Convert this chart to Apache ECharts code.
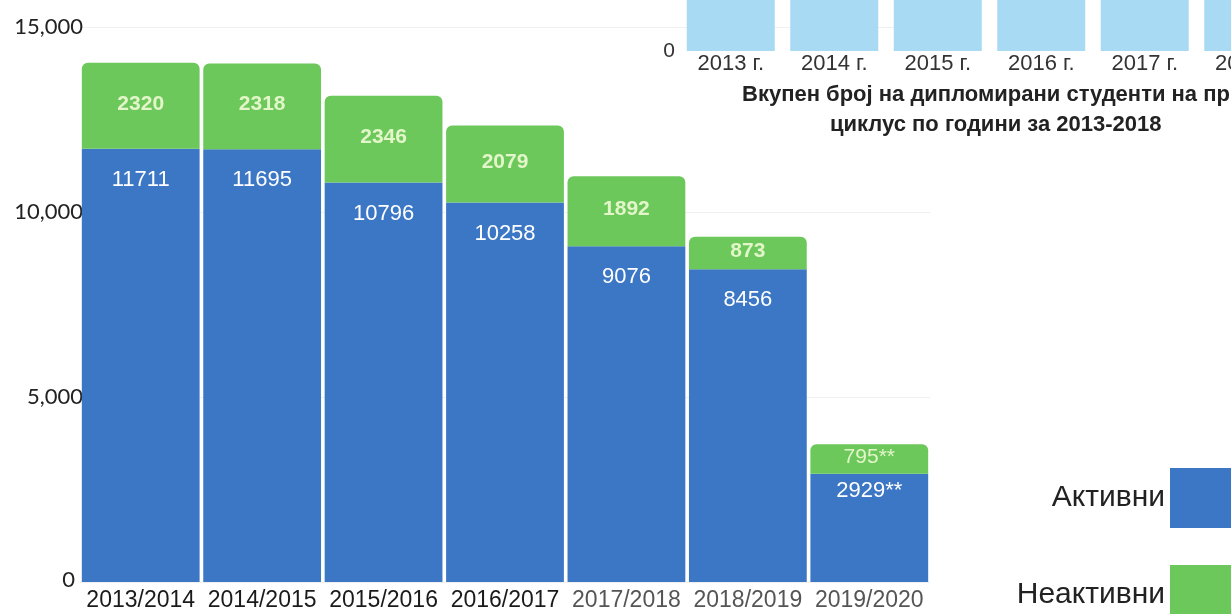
<!DOCTYPE html>
<html><head><meta charset="utf-8">
<script src="https://cdn.jsdelivr.net/npm/echarts@6/dist/echarts.min.js"></script>
<style>html,body{margin:0;padding:0;background:#fff}#c{width:1231px;height:614px}</style>
</head><body><div id="c"></div>
<script>
// main chart data
const categories = ['2013/2014','2014/2015','2015/2016','2016/2017','2017/2018','2018/2019','2019/2020'];
const active = [11711, 11695, 10796, 10258, 9076, 8456, 2929];
const inactive = [2320, 2318, 2346, 2079, 1892, 873, 795];
const footnoteIndex = 6; // values marked with **
const yTicks = [0, 5000, 10000, 15000];
// background (cropped) chart data
const bgCategories = ['2013 г.','2014 г.','2015 г.','2016 г.','2017 г.','2018 г.'];
const bgValues = [6500, 6800, 7000, 6700, 6400, 6000];
const bgTitle1 = 'Вкупен број на дипломирани студенти на прв';
const bgTitle2 = 'циклус по години за 2013-2018';

const BLUE = '#3c77c5', GREEN = '#6cc85a', LIGHTBLUE = '#a9daf4';
const NARROW = 'Liberation Sans Narrow, Liberation Sans, Arial';

const chart = echarts.init(document.getElementById('c'));
chart.setOption({
  animation: false,
  backgroundColor: '#fff',
  grid: [
    {left: 80, right: 301, top: 27, bottom: 32, outerBoundsMode: 'none', containLabel: false},
    {left: 679, right: -69, top: -500, bottom: 563, outerBoundsMode: 'none', containLabel: false}
  ],
  xAxis: [
    {type: 'category', data: categories, gridIndex: 0,
     axisLine: {show: false}, axisTick: {show: false},
     axisLabel: {interval: 0, margin: 7, fontFamily: NARROW, fontSize: 23,
       formatter: (v, i) => (i < 4 ? '{d|' + v + '}' : '{l|' + v + '}'),
       rich: {d: {color: '#1a1a1a', fontSize: 23, fontFamily: NARROW},
              l: {color: '#555', fontSize: 23, fontFamily: NARROW}}}},
    {type: 'category', data: bgCategories, gridIndex: 1,
     axisLine: {show: false}, axisTick: {show: false},
     axisLabel: {interval: 0, margin: 2, color: '#333', fontSize: 22, fontFamily: 'Liberation Sans, Arial'}}
  ],
  yAxis: [
    {type: 'value', gridIndex: 0, min: yTicks[0], max: yTicks[yTicks.length - 1], interval: 5000,
     axisLine: {show: false}, axisTick: {show: false},
     splitLine: {lineStyle: {color: '#f0f0f0'}},
     axisLabel: {margin: -3, color: '#222', fontSize: 22, fontFamily: 'Lato, Open Sans, sans-serif',
       formatter: v => (v === 0 ? '{z|0}' : v.toLocaleString('en-US')),
       rich: {z: {color: '#222', fontSize: 22, fontFamily: 'Lato, Open Sans, sans-serif', padding: [0, 8, 4, 0]}}}},
    {type: 'value', gridIndex: 1, min: 0, max: 10000, interval: 10000,
     axisLine: {show: false}, axisTick: {show: false}, splitLine: {show: false},
     axisLabel: {margin: 4, color: '#333', fontSize: 21, fontFamily: 'Liberation Sans, Arial'}}
  ],
  legend: [
    {data: ['Активни'], orient: 'vertical', right: -6, top: 463, itemWidth: 62, itemHeight: 60, itemGap: 10,
     align: 'right', icon: 'rect', textStyle: {fontSize: 30, color: '#222', fontFamily: 'Liberation Sans, Arial'}},
    {data: ['Неактивни'], orient: 'vertical', right: -6, top: 560, itemWidth: 62, itemHeight: 60, itemGap: 10,
     align: 'right', icon: 'rect', textStyle: {fontSize: 30, color: '#222', fontFamily: 'Liberation Sans, Arial'}}
  ],
  graphic: [
    {type: 'text', left: 742, top: 84, style: {text: bgTitle1, fill: '#222', font: 'bold 22px Liberation Sans, Arial'}},
    {type: 'text', left: 830, top: 114, style: {text: bgTitle2, fill: '#222', font: 'bold 22px Liberation Sans, Arial'}}
  ],
  series: [
    {name: 'bg', type: 'bar', xAxisIndex: 1, yAxisIndex: 1, data: bgValues, barWidth: 88,
     itemStyle: {color: LIGHTBLUE}, silent: true, z: 1},
    {name: 'Активни', type: 'bar', stack: 'a', xAxisIndex: 0, yAxisIndex: 0, barCategoryGap: '3%',
     itemStyle: {color: BLUE}, z: 3,
     data: active.map((v, i) => i === footnoteIndex
       ? {value: v, label: {formatter: v + '**', distance: 6}}
       : v),
     label: {show: true, position: 'insideTop', distance: 20, color: '#fff', fontSize: 22,
       fontFamily: 'Liberation Sans, Arial'}},
    {name: 'Неактивни', type: 'bar', stack: 'a', xAxisIndex: 0, yAxisIndex: 0, barCategoryGap: '3%',
     itemStyle: {color: GREEN, borderRadius: [6, 6, 0, 0]}, z: 3,
     data: inactive.map((v, i) => i === footnoteIndex
       ? {value: v, label: {formatter: v + '**', fontWeight: 'normal'}}
       : v),
     label: {show: true, position: 'inside', offset: [0, -2], color: '#e2f6c9', fontSize: 21, fontWeight: 'bold',
       fontFamily: 'Liberation Sans, Arial'}}
  ]
});
</script></body></html>
